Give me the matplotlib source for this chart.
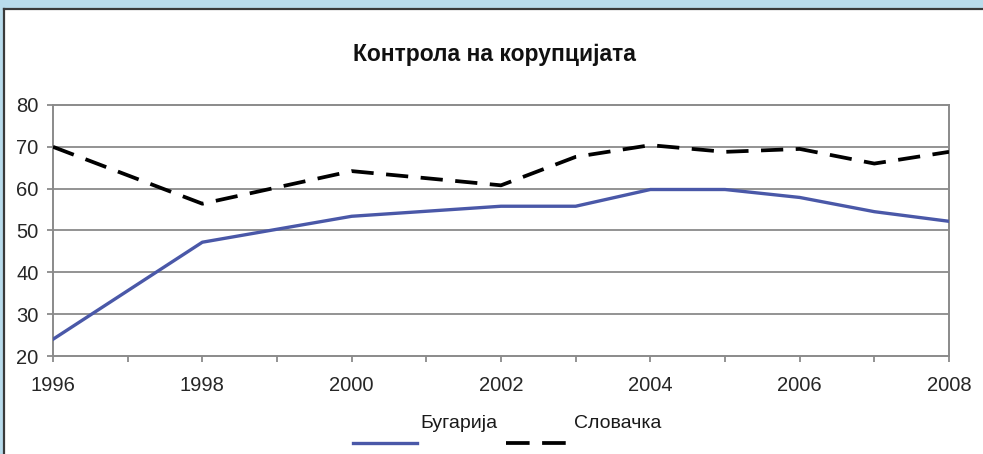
import matplotlib
matplotlib.use("Agg")
import matplotlib.pyplot as plt
from matplotlib import font_manager
from matplotlib.lines import Line2D
from matplotlib.patches import Rectangle

# податоци (прочитани од графиконот)
years = [1996, 1998, 2000, 2002, 2003, 2004, 2005, 2006, 2007, 2008]
bulgaria = [24.0, 47.2, 53.4, 55.8, 55.8, 59.8, 59.8, 57.9, 54.5, 52.2]
slovakia = [70.0, 56.4, 64.2, 60.8, 67.6, 70.4, 68.8, 69.5, 66.0, 68.8]
x_ticks = list(range(1996, 2009))
x_labels = [str(y) if y % 2 == 0 else "" for y in x_ticks]
y_ticks = [20, 30, 40, 50, 60, 70, 80]
title = "Контрола на корупцијата"
names = ["Бугарија", "Словачка"]

installed = {f.name for f in font_manager.fontManager.ttflist}
narrow = "Liberation Sans Narrow" in installed
font = "Liberation Sans Narrow" if narrow else "Liberation Sans"
plt.rcParams["font.family"] = [font, "DejaVu Sans"]
plt.rcParams["lines.scale_dashes"] = False

W, H = 983, 454
fig = plt.figure(figsize=(W / 100, H / 100), dpi=100)

def fx(px):
    return px / W

def fy(py):
    return 1 - py / H

# рамка горе и лево
blue = "#b9dcec"
fig.add_artist(Rectangle((0, fy(8)), 1, 8 / H, transform=fig.transFigure,
                         color=blue, lw=0))
fig.add_artist(Rectangle((0, 0), 3 / W, 1, transform=fig.transFigure,
                         color=blue, lw=0))
fig.add_artist(Line2D([fx(4), 1], [fy(9), fy(9)], transform=fig.transFigure,
                      color="#3a3a3a", lw=1.6))
fig.add_artist(Line2D([fx(4), fx(4)], [0, fy(9)], transform=fig.transFigure,
                      color="#3a3a3a", lw=1.6))

ax = fig.add_axes([fx(53), fy(356), fx(949 - 53), (356 - 105) / H])
grid_c = "#8a8a8a"
for y in y_ticks[1:-1]:
    ax.axhline(y, color=grid_c, lw=1.3, zorder=1)

ax.plot(years, bulgaria, color="#4a58a8", lw=2.4, zorder=3,
        solid_joinstyle="round")
ax.plot(years, slovakia, color="black", lw=2.7, zorder=3,
        dashes=(16, 9))

ax.set_xlim(1996, 2008)
ax.set_ylim(20, 80)
ax.set_xticks(x_ticks)
ax.set_xticklabels(x_labels)
ax.set_yticks(y_ticks)
for s in ax.spines.values():
    s.set_color(grid_c)
    s.set_linewidth(1.4)
ax.tick_params(axis="both", color=grid_c, width=1.3, length=4.5,
               labelcolor="#262626", labelsize=15 if narrow else 14.5)
ax.tick_params(axis="x", pad=10)
ax.tick_params(axis="y", pad=6)

fig.text(fx(494), fy(61), title, ha="center", va="baseline",
         fontsize=19 if narrow else 16.5, fontweight="bold", color="#111111")

# легенда
leg_size = 16 if narrow else 14
fig.add_artist(Line2D([fx(353), fx(417)], [fy(443), fy(443)],
                      transform=fig.transFigure, color="#4a58a8", lw=2.4))
fig.text(fx(420), fy(424), names[0], ha="left", va="center",
         fontsize=leg_size, color="#1a1a1a")
fig.add_artist(Line2D([fx(506), fx(566)], [fy(443), fy(443)],
                      transform=fig.transFigure, color="black", lw=2.7,
                      dashes=(17, 9)))
fig.text(fx(574), fy(424), names[1], ha="left", va="center",
         fontsize=leg_size, color="#1a1a1a")

fig.savefig("out.png", dpi=100)
